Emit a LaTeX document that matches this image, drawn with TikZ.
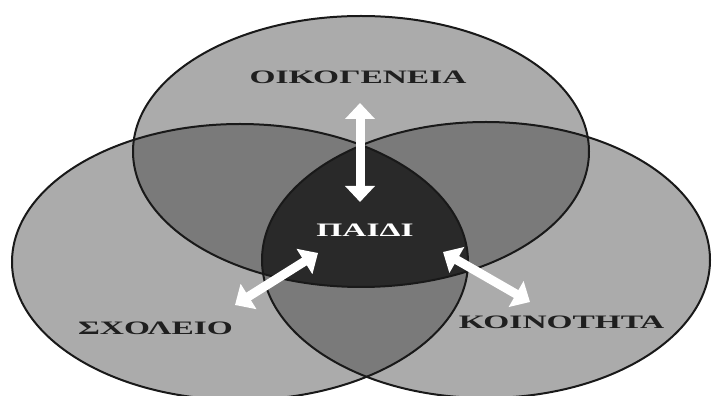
\documentclass[tikz,border=0pt]{standalone}
\usepackage{fontspec}
\setmainfont{Liberation Serif}
\usetikzlibrary{arrows.meta}
\definecolor{lightgr}{gray}{0.67}
\definecolor{midgr}{gray}{0.48}
\definecolor{darkgr}{gray}{0.16}
\definecolor{textgr}{gray}{0.12}
\tikzset{
	rim/.style={line width=2pt, black!90},
	wayarrow/.style={white, line width=9pt, {Triangle[length=16pt,width=29pt]}-{Triangle[length=16pt,width=29pt]}},
	place/.style={font=\fontsize{19}{19}\selectfont\bfseries, text=textgr, xscale=1.76, transform shape, inner sep=0pt}
}
\begin{document}
\begin{tikzpicture}[x=1pt, y=1pt, line join=round]
			%\draw[gray!20] (0,0) grid[step=50] (713,396);
			\useasboundingbox (0,0) rectangle (713,396);
			\coordinate (T) at (361,244.5);
			\coordinate (S) at (240,134);
			\coordinate (K) at (486,136);
			\coordinate (U1) at (360,293);
			\coordinate (U2) at (360,194);
			\coordinate (L1) at (318,143);
			\coordinate (L2) at (235,91);
			\coordinate (R1) at (443,144);
			\coordinate (R2) at (530,94);
			\fill[lightgr] (T) ellipse [x radius=228, y radius=135.5];
			\fill[lightgr] (S) ellipse [x radius=228, y radius=138];
			\fill[lightgr] (K) ellipse [x radius=224, y radius=138];
			\begin{scope}
				\clip (S) ellipse [x radius=228, y radius=138];
				\fill[midgr] (K) ellipse [x radius=224, y radius=138];
			\end{scope}
			\begin{scope}
				\clip (T) ellipse [x radius=228, y radius=135.5];
				\fill[midgr] (S) ellipse [x radius=228, y radius=138];
				\fill[midgr] (K) ellipse [x radius=224, y radius=138];
				\clip (S) ellipse [x radius=228, y radius=138];
				\fill[darkgr] (K) ellipse [x radius=224, y radius=138];
			\end{scope}
			\draw[rim] (T) ellipse [x radius=228, y radius=135.5];
			\draw[rim] (S) ellipse [x radius=228, y radius=138];
			\draw[rim] (K) ellipse [x radius=224, y radius=138];
			\draw[wayarrow] (U1)--(U2);
			\draw[wayarrow] (L1)--(L2); \draw[wayarrow] (R1)--(R2);
			\node[place] (fam) at (358,318.5) {ΟΙΚΟΓΕΝΕΙΑ};
			\node[place] (sch) at (155.5,67.5) {ΣΧΟΛΕΙΟ};
			\node[place] (com) at (561.5,73.5) {ΚΟΙΝΟΤΗΤΑ};
			\node[place, text=white] (child) at (365,166) {ΠΑΙΔΙ};
		\end{tikzpicture}
\end{document}
